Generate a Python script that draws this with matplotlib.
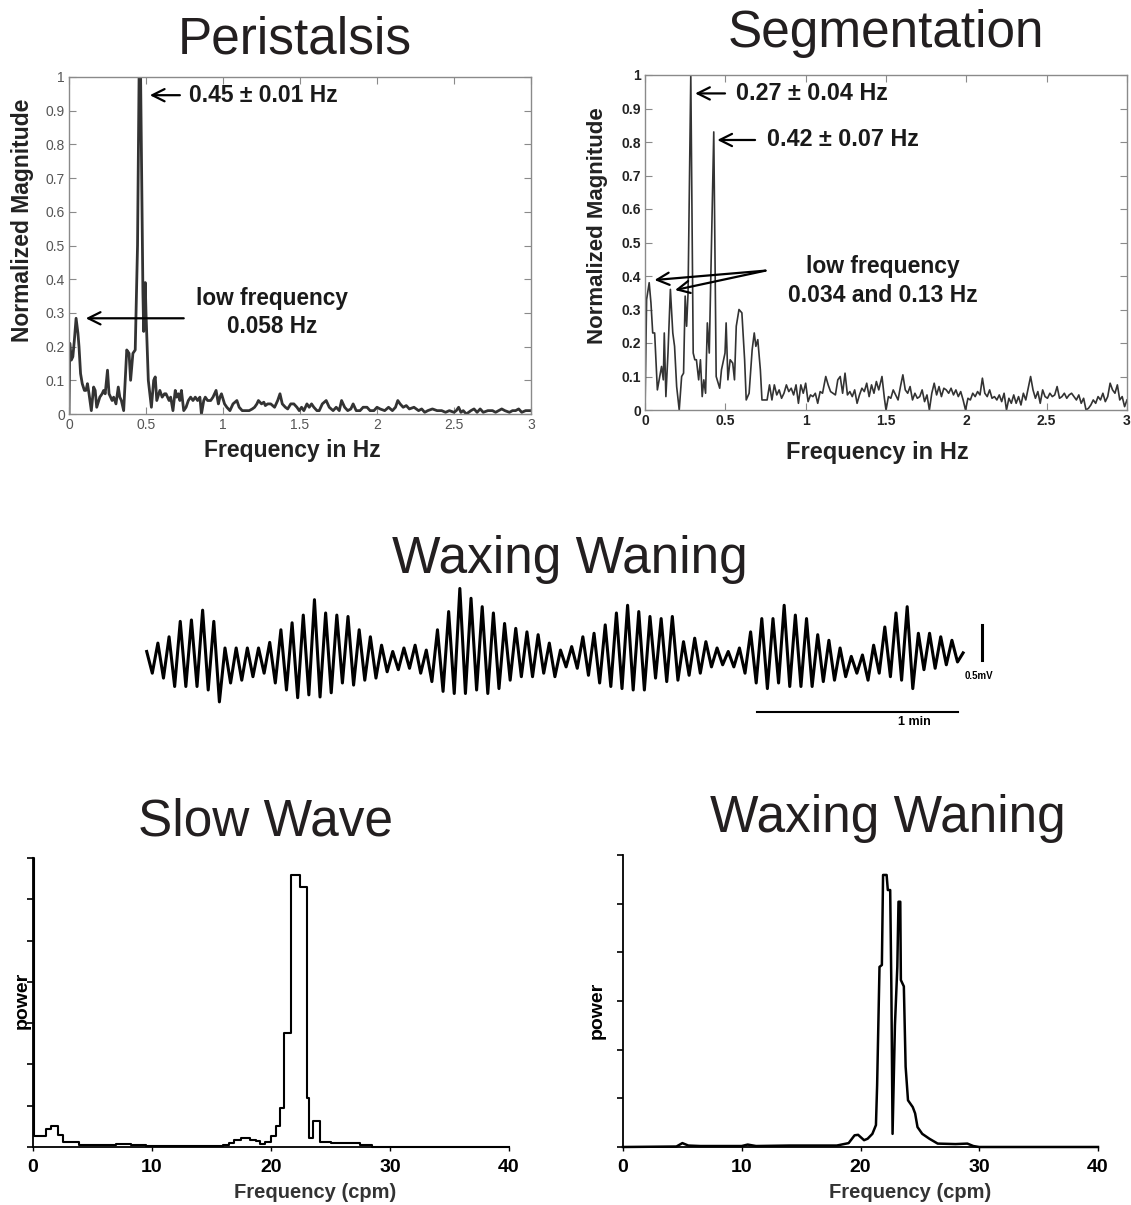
import matplotlib
matplotlib.use('Agg')
import matplotlib.pyplot as plt
import numpy as np

plt.rcParams['font.family'] = ['Liberation Sans', 'DejaVu Sans']

W, H = 1131, 1205

# ---------------- data ----------------
# Peristalsis spectrum (Hz, normalized magnitude)
peri_hz = [0, 0.005, 0.015, 0.025, 0.035, 0.046, 0.058, 0.065, 0.075, 0.086, 0.1, 0.11, 0.12, 0.13,
           0.145, 0.16, 0.17, 0.18, 0.2, 0.215, 0.225, 0.235, 0.25, 0.26, 0.27, 0.28, 0.29, 0.305,
           0.32, 0.33, 0.34, 0.355, 0.375, 0.39, 0.4, 0.415, 0.43, 0.445, 0.455, 0.465, 0.48, 0.485,
           0.495, 0.5, 0.515, 0.525, 0.535, 0.55, 0.56, 0.57, 0.59, 0.605, 0.62, 0.63, 0.65, 0.66,
           0.675, 0.69, 0.7, 0.71, 0.72, 0.73, 0.745, 0.76, 0.775, 0.79, 0.805, 0.82, 0.835, 0.85,
           0.86, 0.875, 0.885, 0.9, 0.92, 0.935, 0.955, 0.97, 0.98, 0.99, 1.01, 1.025, 1.045, 1.065,
           1.09, 1.105, 1.125, 1.15, 1.17, 1.19, 1.205, 1.22, 1.23, 1.25, 1.265, 1.275, 1.29, 1.31,
           1.335, 1.355, 1.37, 1.385, 1.405, 1.42, 1.44, 1.46, 1.48, 1.495, 1.51, 1.525, 1.545, 1.56,
           1.575, 1.59, 1.61, 1.625, 1.645, 1.67, 1.69, 1.715, 1.735, 1.755, 1.77, 1.79, 1.81, 1.83,
           1.845, 1.865, 1.89, 1.91, 1.935, 1.955, 1.98, 2.0, 2.02, 2.05, 2.075, 2.1, 2.12, 2.135,
           2.15, 2.17, 2.19, 2.21, 2.24, 2.27, 2.29, 2.31, 2.33, 2.36, 2.39, 2.42, 2.445, 2.47, 2.5,
           2.515, 2.53, 2.545, 2.56, 2.58, 2.61, 2.63, 2.65, 2.67, 2.69, 2.72, 2.75, 2.77, 2.79, 2.81,
           2.83, 2.86, 2.88, 2.9, 2.92, 2.94, 2.965, 2.98, 3.0]
peri_mag = [0, 0.21, 0.16, 0.17, 0.22, 0.284, 0.24, 0.2, 0.12, 0.09, 0.07, 0.07, 0.09, 0.06,
            0.01, 0.08, 0.07, 0.02, 0.05, 0.06, 0.07, 0.06, 0.13, 0.06, 0.05, 0.04, 0.05, 0.03,
            0.08, 0.05, 0.04, 0.01, 0.19, 0.18, 0.1, 0.18, 0.19, 0.5, 1.0, 1.0, 0.36, 0.245,
            0.39, 0.3, 0.1, 0.06, 0.02, 0.1, 0.11, 0.04, 0.07, 0.05, 0.06, 0.06, 0.04, 0.05,
            0.01, 0.07, 0.05, 0.06, 0.04, 0.07, 0.01, 0.02, 0.04, 0.05, 0.04, 0.05, 0.04, 0.05,
            0.0, 0.04, 0.05, 0.04, 0.04, 0.05, 0.07, 0.03, 0.05, 0.06, 0.03, 0.02, 0.01, 0.03,
            0.04, 0.02, 0.01, 0.01, 0.01, 0.015, 0.02, 0.03, 0.04, 0.03, 0.035, 0.025, 0.03, 0.03,
            0.02, 0.04, 0.06, 0.03, 0.02, 0.015, 0.03, 0.03, 0.02, 0.01, 0.02, 0.01, 0.03, 0.02,
            0.03, 0.02, 0.01, 0.01, 0.03, 0.04, 0.02, 0.01, 0.02, 0.01, 0.04, 0.02, 0.01, 0.015,
            0.03, 0.01, 0.01, 0.02, 0.02, 0.01, 0.01, 0.02, 0.015, 0.01, 0.02, 0.01, 0.02, 0.04,
            0.03, 0.02, 0.025, 0.015, 0.02, 0.01, 0.015, 0.005, 0.01, 0.015, 0.01, 0.01, 0.005, 0.01, 0.005,
            0.01, 0.02, 0.005, 0.01, 0.0, 0.01, 0.015, 0.005, 0.015, 0.005, 0.01, 0.01, 0.005, 0.01, 0.015,
            0.01, 0.005, 0.01, 0.01, 0.015, 0.005, 0.01, 0.01, 0.01]

# Segmentation spectrum (Hz, normalized magnitude)
seg_hz = [0, 0.01, 0.026, 0.037, 0.048, 0.06, 0.077, 0.092, 0.103, 0.114, 0.12, 0.13, 0.143, 0.158,
          0.173, 0.184, 0.197, 0.213, 0.228, 0.24, 0.25, 0.259, 0.268, 0.285, 0.3, 0.31, 0.32, 0.334,
          0.345, 0.356, 0.366, 0.377, 0.388, 0.4, 0.428, 0.443, 0.465, 0.476, 0.498, 0.505, 0.516,
          0.53, 0.546, 0.557, 0.568, 0.585, 0.603, 0.62, 0.63, 0.648, 0.667, 0.68, 0.69, 0.702, 0.718,
          0.728, 0.744,
          0.76, 0.775, 0.79, 0.805, 0.82, 0.835, 0.85, 0.865, 0.88, 0.895, 0.91, 0.925, 0.94, 0.955,
          0.97, 0.985, 1.0, 1.015, 1.03, 1.045, 1.06, 1.075, 1.09, 1.105, 1.125, 1.14, 1.155, 1.17,
          1.185, 1.2, 1.215, 1.23, 1.245, 1.26, 1.275, 1.29, 1.305, 1.32, 1.335, 1.35, 1.365, 1.38,
          1.395, 1.41, 1.425, 1.44, 1.455, 1.475, 1.49, 1.5, 1.515, 1.53, 1.545, 1.56, 1.575, 1.59,
          1.605, 1.62, 1.635, 1.65, 1.665, 1.68, 1.695, 1.71, 1.725, 1.74, 1.755, 1.77, 1.785, 1.8,
          1.815, 1.83, 1.845, 1.86, 1.875, 1.89, 1.905, 1.92, 1.935, 1.95, 1.965, 1.98, 1.995, 2.01,
          2.025, 2.04, 2.055, 2.07, 2.085, 2.1, 2.115, 2.13, 2.145, 2.16, 2.175, 2.19, 2.205, 2.22,
          2.235, 2.25, 2.265, 2.28, 2.295, 2.31, 2.325, 2.34, 2.355, 2.37, 2.385, 2.4, 2.415, 2.43,
          2.445, 2.46, 2.475, 2.49, 2.505, 2.52, 2.535, 2.55, 2.565, 2.58, 2.595, 2.61, 2.625, 2.64,
          2.655, 2.67, 2.685, 2.7, 2.715, 2.73, 2.745, 2.76, 2.775, 2.79, 2.805, 2.82, 2.835, 2.85,
          2.865, 2.88, 2.895, 2.91, 2.925, 2.94, 2.955, 2.97, 2.985, 3.0]
seg_mag = [0, 0.33, 0.38, 0.32, 0.23, 0.23, 0.06, 0.1, 0.13, 0.09, 0.23, 0.04, 0.17, 0.36,
           0.23, 0.19, 0.07, 0.0, 0.1, 0.11, 0.34, 0.25, 0.35, 1.0, 0.17, 0.15, 0.15, 0.09,
           0.15, 0.04, 0.09, 0.05, 0.26, 0.17, 0.83, 0.1, 0.065, 0.12, 0.17, 0.26, 0.09,
           0.15, 0.14, 0.09, 0.25, 0.3, 0.29, 0.15, 0.03, 0.05, 0.18, 0.23, 0.19, 0.21, 0.12,
           0.03, 0.03,
           0.03, 0.075, 0.03, 0.075, 0.045, 0.06, 0.035, 0.05, 0.075, 0.055, 0.065, 0.045, 0.075, 0.02,
           0.075, 0.05, 0.08, 0.025, 0.045, 0.04, 0.05, 0.02, 0.055, 0.05, 0.1, 0.075, 0.055, 0.05,
           0.045, 0.09, 0.1, 0.05, 0.11, 0.045, 0.055, 0.04, 0.06, 0.02, 0.045, 0.065, 0.055, 0.08,
           0.04, 0.075, 0.05, 0.085, 0.06, 0.1, 0.035, 0.0, 0.04, 0.035, 0.06, 0.045, 0.03, 0.07,
           0.105, 0.06, 0.05, 0.07, 0.03, 0.05, 0.035, 0.04, 0.06, 0.025, 0.045, 0.0, 0.05, 0.08,
           0.045, 0.07, 0.04, 0.065, 0.06, 0.05, 0.065, 0.045, 0.06, 0.04, 0.055, 0.03, 0.0, 0.035,
           0.03, 0.05, 0.04, 0.055, 0.045, 0.095, 0.05, 0.04, 0.06, 0.035, 0.04, 0.03, 0.045, 0.025,
           0.05, 0.0, 0.035, 0.02, 0.045, 0.02, 0.04, 0.015, 0.05, 0.03, 0.065, 0.1, 0.06, 0.035,
           0.055, 0.02, 0.06, 0.04, 0.035, 0.05, 0.04, 0.045, 0.07, 0.035, 0.04, 0.05, 0.035, 0.045,
           0.05, 0.04, 0.03, 0.045, 0.02, 0.035, 0.0, 0.005, 0.015, 0.03, 0.02, 0.04, 0.03, 0.05,
           0.025, 0.04, 0.08, 0.06, 0.05, 0.075, 0.03, 0.04, 0.01, 0.03]

# Waxing-waning recording: successive peaks/troughs (mV), one every trace_dt seconds
trace_dt = 1.67
trace_mv = [0.05, -0.26, 0.17, -0.33, 0.26, -0.45, 0.48, -0.45, 0.50, -0.45, 0.64, -0.50, 0.48,
            -0.67, 0.10, -0.40, 0.10, -0.36, 0.10, -0.31, 0.10, -0.26, 0.18, -0.40, 0.36, -0.50,
            0.46, -0.61, 0.57, -0.57, 0.79, -0.60, 0.60, -0.54, 0.57, -0.40, 0.55,
            -0.43, 0.36, -0.36, 0.26, -0.33, 0.14, -0.24, 0.05, -0.21, 0.10, -0.19, 0.14, -0.26,
            0.07, -0.38, 0.36, -0.52, 0.62, -0.55, 0.95, -0.55, 0.81, -0.50, 0.69, -0.55, 0.60,
            -0.48, 0.45, -0.36, 0.38, -0.31, 0.33, -0.31, 0.29, -0.26, 0.17,
            -0.31, 0.07, -0.17, 0.12, -0.19, 0.26, -0.29, 0.31, -0.40, 0.43, -0.45, 0.60, -0.48,
            0.71, -0.50, 0.62, -0.50, 0.55, -0.33, 0.52, -0.38, 0.55, -0.36, 0.19, -0.29, 0.24,
            -0.26, 0.19, -0.17, 0.10, -0.14, 0.05, -0.17, 0.10, -0.26, 0.33, -0.40,
            0.52, -0.48, 0.52, -0.40, 0.71, -0.45, 0.57, -0.45, 0.52, -0.45, 0.29, -0.38, 0.21,
            -0.36, 0.10, -0.31, -0.02, -0.26, 0.00, -0.36, 0.14, -0.26, 0.40, -0.31, 0.60, -0.36,
            0.69, -0.48, 0.31, -0.21, 0.31, -0.19, 0.26, -0.14, 0.21, -0.10, 0.03]

# Slow wave power spectrum (step histogram, cpm)
sw_cpm = [0, 0.1, 1.1, 1.55, 2.1, 2.55, 3.85, 7.0, 8.2, 9.5, 16.0, 16.5, 16.9, 17.5, 18.2, 18.7,
          19.1, 19.5, 20.0, 20.4, 20.75, 21.1, 21.65, 22.4, 23.0, 23.2, 23.55, 24.1, 25.0, 27.5,
          28.5, 40]
sw_power = [7.0, 0.26, 0.44, 0.5, 0.3, 0.11, 0.06, 0.08, 0.05, 0.03, 0.05, 0.09, 0.16, 0.23, 0.18,
            0.14, 0.08, 0.12, 0.27, 0.5, 0.95, 2.76, 6.6, 6.3, 1.19, 0.23, 0.62, 0.12, 0.09, 0.04,
            0.01, 0.01]

# Waxing-waning power spectrum (cpm)
ww_cpm = [0, 4.5, 5.0, 5.5, 6.5, 10.0, 10.5, 11.2, 14.0, 18.0, 19.0, 19.5, 19.8, 20.3, 20.6, 21.0,
          21.3, 21.4, 21.6, 21.8, 21.9, 22.2, 22.3, 22.5, 22.6, 22.7, 22.9, 23.1, 23.2, 23.35, 23.4,
          23.65, 23.8, 24.0, 24.4, 24.6, 24.8, 25.2, 25.8, 26.5, 28.0, 29.0, 29.5, 30.0, 40.0]
ww_power = [0.0, 0.01, 0.08, 0.03, 0.02, 0.02, 0.05, 0.02, 0.03, 0.03, 0.08, 0.24, 0.25, 0.14,
            0.17, 0.27, 0.45, 1.27, 3.7, 3.74, 5.59, 5.59, 5.28, 5.28, 3.26, 0.27, 2.5, 3.7, 5.04,
            5.04, 3.43, 3.3, 1.65, 0.96, 0.82, 0.69, 0.41, 0.27, 0.17, 0.07, 0.06, 0.07, 0.02, 0.0,
            0.0]

hz_ticks = [0, 0.5, 1, 1.5, 2, 2.5, 3]
hz_labels = ['0', '0.5', '1', '1.5', '2', '2.5', '3']
mag_ticks = [0, 0.1, 0.2, 0.3, 0.4, 0.5, 0.6, 0.7, 0.8, 0.9, 1]
mag_labels = ['0', '0.1', '0.2', '0.3', '0.4', '0.5', '0.6', '0.7', '0.8', '0.9', '1']
cpm_ticks = [0, 10, 20, 30, 40]

# ---------------- figure ----------------
fig = plt.figure(figsize=(W / 100, H / 100), dpi=100)


def px_axes(l, t, r, b):
    return fig.add_axes([l / W, 1 - b / H, (r - l) / W, (b - t) / H])


def px_text(x, y, s, **kw):
    fig.text(x / W, 1 - y / H, s, **kw)


title_kw = dict(fontsize=37, color='#231f20', ha='center', va='baseline')
px_text(295, 53, 'Peristalsis', **title_kw)
px_text(886, 47, 'Segmentation', **title_kw)
px_text(570, 573, 'Waxing Waning', **title_kw)
px_text(265, 836, 'Slow Wave', **title_kw)
px_text(888, 832, 'Waxing Waning', **title_kw)


def matlab_axes(ax, bold):
    ax.set_xlim(0, 3)
    ax.set_ylim(0, 1)
    ax.set_xticks(hz_ticks)
    ax.set_xticklabels(hz_labels)
    ax.set_yticks(mag_ticks)
    ax.set_yticklabels(mag_labels)
    for s in ax.spines.values():
        s.set_color('#8a8a8a')
        s.set_linewidth(1.0)
    ax.tick_params(direction='in', length=5, top=True, right=True, color='#8a8a8a',
                   labelsize=10, pad=3,
                   labelcolor='#222222' if bold else '#555555')
    if bold:
        for lab in ax.get_xticklabels() + ax.get_yticklabels():
            lab.set_fontweight('bold')


arrow_kw = dict(arrowstyle='->', lw=1.6, color='black', mutation_scale=22, shrinkA=0, shrinkB=0)
note_kw = dict(fontweight='bold', color='#1a1a1a')

# Peristalsis spectrum
ax1 = px_axes(69, 77, 531, 414)
ax1.plot(peri_hz, peri_mag, color='#333333', lw=2.0)
matlab_axes(ax1, bold=False)
ax1.annotate('', xy=(0.525, 0.946), xytext=(0.72, 0.946), arrowprops=arrow_kw)
ax1.text(0.78, 0.946, '0.45 \u00b1 0.01 Hz', fontsize=16.5, ha='left', va='center', **note_kw)
ax1.annotate('', xy=(0.109, 0.284), xytext=(0.745, 0.284), arrowprops=arrow_kw)
ax1.text(1.32, 0.344, 'low frequency', fontsize=16.3, ha='center', va='center', **note_kw)
ax1.text(1.32, 0.26, '0.058 Hz', fontsize=16.3, ha='center', va='center', **note_kw)
px_text(22, 220, 'Normalized Magnitude', fontsize=16.5, fontweight='bold', rotation=90,
        ha='center', va='center', color='#222222')
px_text(292, 450, 'Frequency in Hz', fontsize=16.5, fontweight='bold', ha='center',
        va='center', color='#222222')

# Segmentation spectrum
ax2 = px_axes(645, 75, 1127, 410)
ax2.plot(seg_hz, seg_mag, color='#333333', lw=1.2)
matlab_axes(ax2, bold=True)
ax2.annotate('', xy=(0.312, 0.945), xytext=(0.498, 0.945), arrowprops=arrow_kw)
ax2.text(0.564, 0.945, '0.27 \u00b1 0.04 Hz', fontsize=16.8, ha='left', va='center', **note_kw)
ax2.annotate('', xy=(0.45, 0.806), xytext=(0.685, 0.806), arrowprops=arrow_kw)
ax2.text(0.761, 0.806, '0.42 \u00b1 0.07 Hz', fontsize=16.8, ha='left', va='center', **note_kw)
ax2.annotate('', xy=(0.059, 0.388), xytext=(0.75, 0.416), arrowprops=arrow_kw)
ax2.annotate('', xy=(0.187, 0.358), xytext=(0.75, 0.416), arrowprops=arrow_kw)
ax2.text(1.48, 0.428, 'low frequency', fontsize=16.5, ha='center', va='center', **note_kw)
ax2.text(1.48, 0.343, '0.034 and 0.13 Hz', fontsize=16.5, ha='center', va='center', **note_kw)
px_text(597, 226, 'Normalized Magnitude', fontsize=16, fontweight='bold', rotation=90,
        ha='center', va='center', color='#222222')
px_text(877, 452, 'Frequency in Hz', fontsize=17, fontweight='bold', ha='center',
        va='center', color='#222222')

# Waxing-waning recording
ax3 = px_axes(140, 570, 1030, 735)
t = np.arange(len(trace_mv)) * trace_dt
ax3.plot(t, trace_mv, color='black', lw=2.2, solid_joinstyle='round')
ax3.set_xlim(-2.0, 263.8)
ax3.set_ylim(-1.143, 1.214)
ax3.axis('off')
ax3.plot([249.4, 249.4], [0.43, -0.07], color='black', lw=2.2)
ax3.text(244.3, -0.30, '0.5mV', fontsize=7, ha='left', va='center', fontweight='bold')
ax3.plot([182.2, 242.2], [-0.81, -0.81], color='black', lw=1.5)
ax3.text(229.4, -0.96, '1 min', fontsize=9, ha='center', va='center', fontweight='bold')


def scan_axes(ax, ymax, data_x, data_y, step):
    if step:
        ax.step(data_x, data_y, where='post', color='black', lw=1.5, clip_on=False)
    else:
        ax.plot(data_x, data_y, color='black', lw=1.8, clip_on=False)
    ax.set_xlim(0, 40)
    ax.set_ylim(0, ymax)
    ax.spines['top'].set_visible(False)
    ax.spines['right'].set_visible(False)
    for s in ('left', 'bottom'):
        ax.spines[s].set_linewidth(1.3)
    ax.set_yticks(range(ymax + 1))
    ax.set_yticklabels([])
    ax.set_xticks(cpm_ticks)
    ax.set_xticklabels([str(v) for v in cpm_ticks], fontsize=14, fontweight='bold')
    ax.tick_params(axis='y', direction='out', length=4, width=1.2)
    ax.tick_params(axis='x', direction='out', length=3, width=1.0, pad=6)


# Slow wave spectrum
ax4 = px_axes(33, 858, 509, 1147)
scan_axes(ax4, 7, sw_cpm, sw_power, step=True)
px_text(22, 1000, 'power', fontsize=14, fontweight='bold', rotation=90, ha='center',
        va='center')
px_text(315, 1192, 'Frequency (cpm)', fontsize=14.5, fontweight='bold', ha='center',
        va='center', color='#333333')

# Waxing-waning spectrum
ax5 = px_axes(623, 855, 1098, 1147)
scan_axes(ax5, 6, ww_cpm, ww_power, step=False)
px_text(597, 1010, 'power', fontsize=14, fontweight='bold', rotation=90, ha='center',
        va='center')
px_text(910, 1192, 'Frequency (cpm)', fontsize=14.5, fontweight='bold', ha='center',
        va='center', color='#333333')

fig.savefig('out.png', dpi=100)
